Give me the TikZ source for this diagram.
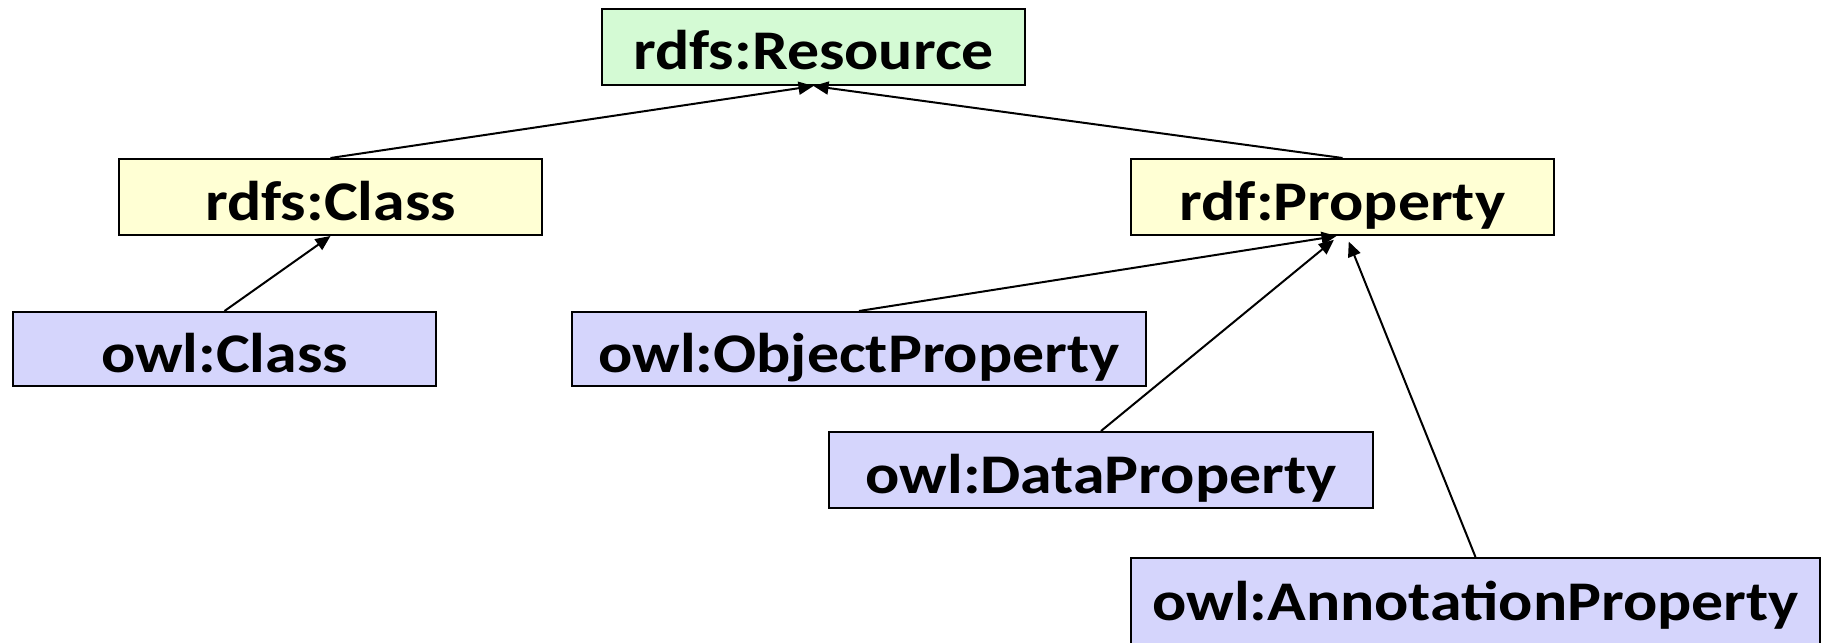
\documentclass[tikz,border=0pt]{standalone}
\usepackage{fontspec}
\setmainfont{Carlito}
\newfontfamily\termfont[FakeStretch=1.14]{Carlito}
\usepackage{tikz}
\usetikzlibrary{arrows.meta}

\definecolor{resgreen}{RGB}{212,250,212}
\definecolor{rdfyellow}{RGB}{255,255,212}
\definecolor{owlblue}{RGB}{213,213,252}

\begin{document}
\begin{tikzpicture}[
  x=0.5pt, y=-0.5pt,
  term/.style={rectangle, draw, line width=1pt, inner sep=0pt,
               minimum height=38pt, text height=24pt, text depth=1pt,
               font=\termfont\fontsize{28}{33}\selectfont\bfseries},
  rootbox/.style={term, fill=resgreen, minimum width=211.5pt},
  rdfsbox/.style={term, fill=rdfyellow, minimum width=211.5pt},
  owlbox/.style={term, fill=owlblue},
  >={Triangle[length=7.5pt,width=6.5pt]}, line width=1pt
]
  \useasboundingbox (0,0) rectangle (1823,642);

  \node[rootbox] (res) at (813.5,47) {rdfs:Resource};
  \node[rdfsbox] (rcls) at (330.5,197) {rdfs:Class};
  \node[rdfsbox] (rprop) at (1342.5,197) {rdf:Property};
  \node[owlbox, minimum width=211.5pt, minimum height=37pt] (ocls) at (224.5,349) {owl:Class};
  \node[owlbox, minimum width=287pt, minimum height=37pt] (oobj) at (859,349) {owl:ObjectProperty};
  \node[owlbox, minimum width=272pt] (odata) at (1101,470) {owl:DataProperty};
  \node[owlbox, minimum width=344.5pt, minimum height=45pt, text depth=7pt] (oann) at (1475.5,603) {owl:AnnotationProperty};

  \draw[->] (rcls.north) -- (res.south);
  \draw[->] (rprop.north) -- (res.south);
  \draw[->] (ocls.north) -- (rcls.south);
  \draw[->] (oobj.north) -- ([xshift=-3pt]rprop.south);
  \draw[->, shorten >=3pt] (odata.north) -- ([xshift=-2pt]rprop.south);
  \draw[->, shorten >=3pt] (oann.north) -- ([xshift=2pt]rprop.south);
\end{tikzpicture}
\end{document}
